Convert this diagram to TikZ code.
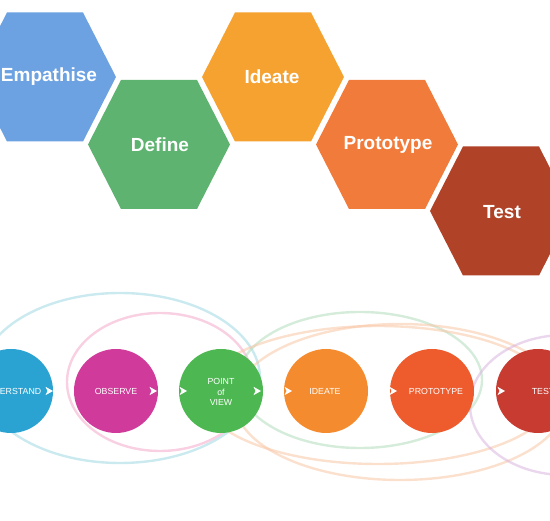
\documentclass[tikz,border=0pt]{standalone}
\usepackage{fontspec}
\setmainfont{Liberation Sans}
\usetikzlibrary{shapes.geometric}
\definecolor{cEmp}{HTML}{6CA2E2}
\definecolor{cDef}{HTML}{5DB36F}
\definecolor{cIde}{HTML}{F5A231}
\definecolor{cPro}{HTML}{F07B3B}
\definecolor{cTes}{HTML}{AF4227}
\definecolor{bUnd}{HTML}{2AA3D3}
\definecolor{bObs}{HTML}{D03A9A}
\definecolor{bPov}{HTML}{4DB851}
\definecolor{bIde}{HTML}{F58B2F}
\definecolor{bPro}{HTML}{EE5B2D}
\definecolor{bTes}{HTML}{C73B31}
\definecolor{lCyan}{HTML}{9FD9E4}
\definecolor{lPink}{HTML}{F2A9C9}
\definecolor{lGreen}{HTML}{B2DDBD}
\definecolor{lPeach}{HTML}{F8C6A6}
\definecolor{lLav}{HTML}{D9B6DE}
\tikzset{
  hexlabel/.style={text=white, font=\bfseries\fontsize{19}{20}\selectfont, inner sep=0pt},
  ball/.style={circle, minimum size=84pt, inner sep=0pt},
  balltext/.style={text=white, font=\fontsize{8.8}{10.5}\selectfont, inner sep=0pt, align=center},
  loopline/.style={line width=2.4pt, opacity=0.55},
  chev/.style={fill=white, draw=none}
}
\newcommand{\hexcell}[3]{%
  \fill[#3] (#1-71,#2) -- (#1-38,#2-64.5) -- (#1+38,#2-64.5) -- (#1+71,#2) -- (#1+38,#2+64.5) -- (#1-38,#2+64.5) -- cycle;}
\newcommand{\chevron}[2]{%
  \fill[chev] (#1-3.5,#2-4.2) -- (#1+4,#2) -- (#1-3.5,#2+4.2) -- (#1-1.5,#2) -- cycle;}
\begin{document}
\begin{tikzpicture}[x=1pt,y=-1pt]
\useasboundingbox (0,0) rectangle (550,521);
\begin{scope}
\clip (0,0) rectangle (550,521);
% hexagons
\hexcell{45}{77}{cEmp}
\hexcell{159}{144.5}{cDef}
\hexcell{273}{77}{cIde}
\hexcell{387}{144.5}{cPro}
\hexcell{501}{211}{cTes}
\node[hexlabel] (hemp) at (49,77) {Empathise};
\node[hexlabel] (hdef) at (160,144.5) {Define};
\node[hexlabel] (hide) at (272,77) {Ideate};
\node[hexlabel] (hpro) at (388,144.5) {Prototype};
\node[hexlabel] (htes) at (502,212) {Test};
% loops
\draw[loopline, lCyan] (120,378) ellipse [x radius=140, y radius=85];
\draw[loopline, lPink] (160,382) ellipse [x radius=93, y radius=69];
\draw[loopline, lGreen] (360,380) ellipse [x radius=122, y radius=68];
\draw[loopline, lPeach] (378,395) ellipse [x radius=176, y radius=69];
\draw[loopline, lPeach] (400,402) ellipse [x radius=165, y radius=78];
\draw[loopline, lLav] (565,405) ellipse [x radius=95, y radius=70];
% balls
\node[ball, fill=bUnd] (und) at (11,391) {};
\node[ball, fill=bObs] (obs) at (116,391) {};
\node[ball, fill=bPov] (pov) at (221,391) {};
\node[ball, fill=bIde] (ide) at (326,391) {};
\node[ball, fill=bPro] (pro) at (432,391) {};
\node[ball, fill=bTes] (tes) at (538,391) {};
\node[balltext] (tund) at (11,391) {UNDERSTAND};
\node[balltext] (tobs) at (116,391) {OBSERVE};
\node[balltext] (tpov) at (221,392) {POINT\\of\\VIEW};
\node[balltext] (tide) at (325,391) {IDEATE};
\node[balltext] (tpro) at (436,391) {PROTOTYPE};
\node[balltext] (ttes) at (543,391) {TEST};
\chevron{49}{391}
\chevron{153}{391}
\chevron{183}{391}
\chevron{257}{391}
\chevron{288}{391}
\chevron{393}{391}
\chevron{501}{391}
\end{scope}
\end{tikzpicture}
\end{document}
